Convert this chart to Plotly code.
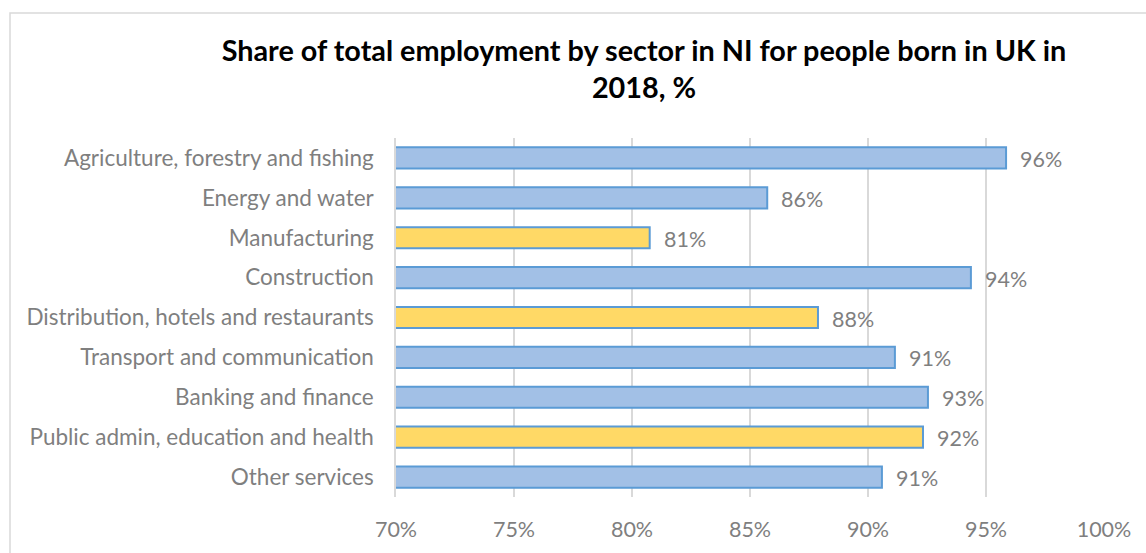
import plotly.graph_objects as go

# Sectors, top to bottom
sectors = [
    "Agriculture, forestry and fishing",
    "Energy and water",
    "Manufacturing",
    "Construction",
    "Distribution, hotels and restaurants",
    "Transport and communication",
    "Banking and finance",
    "Public admin, education and health",
    "Other services",
]
# Share of employment held by UK-born workers, %
share_uk_born = [95.85, 85.73, 80.75, 94.36, 87.88, 91.14, 92.54, 92.33, 90.59]
# Highlighted sectors
highlight = [False, False, True, False, True, False, False, True, False]

x_ticks = [70, 75, 80, 85, 90, 95, 100]
x_tick_labels = ["70%", "75%", "80%", "85%", "90%", "95%", "100%"]

BLUE_FILL = "#a2c0e6"
YELLOW_FILL = "#ffd966"
EDGE = "#5b9bd5"
GRID = "#d9d9d9"
LABEL_GREY = "#7f7f7f"
FONT = "Lato, 'Open Sans', sans-serif"

W, H = 1146, 553
L, R, T, B = 396, 42, 138, 56

fig = go.Figure(
    go.Bar(
        x=share_uk_born,
        y=sectors,
        orientation="h",
        base=0,
        marker=dict(
            color=[YELLOW_FILL if h else BLUE_FILL for h in highlight],
            line=dict(color=EDGE, width=2),
        ),
        hoverinfo="skip",
    )
)

# Value labels beside each bar
for s, v in zip(sectors, share_uk_born):
    fig.add_annotation(
        x=v, y=s, text=f"{v:.0f}%", showarrow=False,
        xanchor="left", xshift=12, yshift=-1,
        font=dict(family=FONT, size=21.5, color=LABEL_GREY),
    )

# Chart-area frame
pw, ph = W - L - R, H - T - B
fig.add_shape(
    type="rect", xref="paper", yref="paper",
    x0=(10 - L) / pw, x1=(W + 30 - L) / pw,
    y0=-(H + 30 - (H - B)) / ph, y1=((H - B) - 13) / ph,
    line=dict(color=GRID, width=1.5), fillcolor="rgba(0,0,0,0)", layer="below",
)

fig.update_layout(
    width=W, height=H,
    margin=dict(l=L, r=R, t=T, b=B, pad=0),
    paper_bgcolor="white", plot_bgcolor="white",
    bargap=0.47,
    showlegend=False,
    title=dict(
        text="Share of total employment by sector in NI for people born in UK in<br>2018, %",
        x=644 / W, xref="container", xanchor="center",
        y=1 - 61 / H, yref="container", yanchor="top",
        font=dict(family=FONT, size=28.8, color="#000000", weight="bold"),
    ),
    xaxis=dict(
        range=[70, 100],
        tickvals=x_ticks, ticktext=x_tick_labels,
        showgrid=True, gridcolor=GRID, gridwidth=1.5,
        zeroline=False, showline=False,
        ticks="", ticklabelstandoff=17,
        tickfont=dict(family=FONT, size=21.5, color=LABEL_GREY),
        fixedrange=True,
    ),
    yaxis=dict(
        autorange="reversed",
        showgrid=False, zeroline=False,
        showline=True, linecolor=GRID, linewidth=1.5,
        ticks="", ticklabelstandoff=16,
        tickfont=dict(family=FONT, size=22.5, color=LABEL_GREY),
        fixedrange=True,
    ),
)

fig.write_html("out.html")
